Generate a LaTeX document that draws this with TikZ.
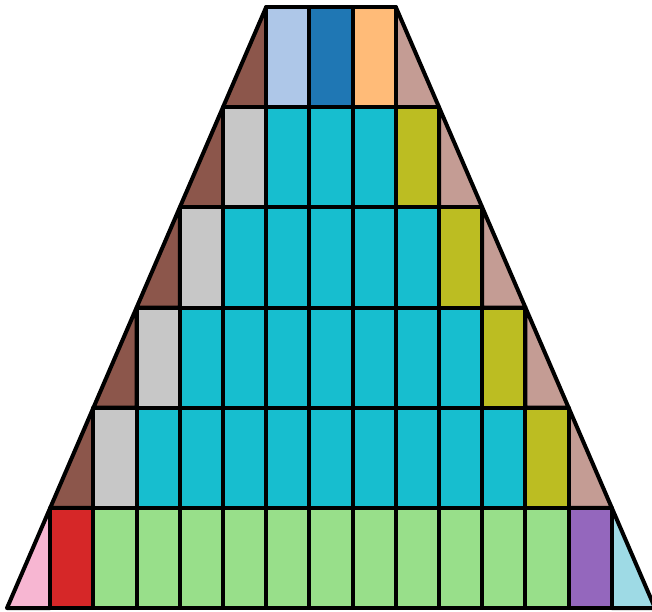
\documentclass[tikz,border=0pt]{standalone}
\usetikzlibrary{calc}
\definecolor{tabbrown}{HTML}{8C564B}
\definecolor{tabbrownlt}{HTML}{C49C94}
\definecolor{tabgray}{HTML}{C7C7C7}
\definecolor{tabcyan}{HTML}{17BECF}
\definecolor{tabolive}{HTML}{BCBD22}
\definecolor{tabpink}{HTML}{F7B6D2}
\definecolor{tabred}{HTML}{D62728}
\definecolor{tabgreenlt}{HTML}{98DF8A}
\definecolor{tabpurple}{HTML}{9467BD}
\definecolor{tabcyanlt}{HTML}{9EDAE5}
\definecolor{tabbluelt}{HTML}{AEC7E8}
\definecolor{tabblue}{HTML}{1F77B4}
\definecolor{taborangelt}{HTML}{FFBB78}

\begin{document}
\begin{tikzpicture}
		[x=21.6pt, y=50.085pt,
		cell/.style={draw=black, line width=2pt, line join=round}]
		\useasboundingbox (-0.162,-0.03) rectangle (14.93,6.07);
		% rows counted from the top, r = 1..6
		\foreach \r in {1,...,6} {
			\pgfmathtruncatemacro{\yt}{7-\r}
			\pgfmathtruncatemacro{\yb}{6-\r}
			\pgfmathtruncatemacro{\xl}{7-\r}
			\pgfmathtruncatemacro{\xr}{8+\r}
			\ifnum\r<6
				\def\lcol{tabbrown}\def\rcol{tabbrownlt}
			\else
				\def\lcol{tabpink}\def\rcol{tabcyanlt}
			\fi
			% side triangles
			\filldraw[cell, fill=\lcol] (\xl,\yt) -- (\xl,\yb) -- (\xl-1,\yb) -- cycle;
			\filldraw[cell, fill=\rcol] (\xr,\yt) -- (\xr,\yb) -- (\xr+1,\yb) -- cycle;
			% inner cells
			\ifnum\r>1
				\ifnum\r<6
					\def\fcol{tabgray}\def\mcol{tabcyan}\def\ecol{tabolive}
				\else
					\def\fcol{tabred}\def\mcol{tabgreenlt}\def\ecol{tabpurple}
				\fi
				\filldraw[cell, fill=\fcol] (\xl,\yb) rectangle (\xl+1,\yt);
				\pgfmathtruncatemacro{\cs}{\xl+1}
				\pgfmathtruncatemacro{\ce}{\xr-2}
				\foreach \c in {\cs,...,\ce}
					\filldraw[cell, fill=\mcol] (\c,\yb) rectangle (\c+1,\yt);
				\filldraw[cell, fill=\ecol] (\xr-1,\yb) rectangle (\xr,\yt);
			\fi
		}
		% top row
		\filldraw[cell, fill=tabbluelt] (6,5) rectangle (7,6);
		\filldraw[cell, fill=tabblue] (7,5) rectangle (8,6);
		\filldraw[cell, fill=taborangelt] (8,5) rectangle (9,6);
	\end{tikzpicture}
\end{document}
